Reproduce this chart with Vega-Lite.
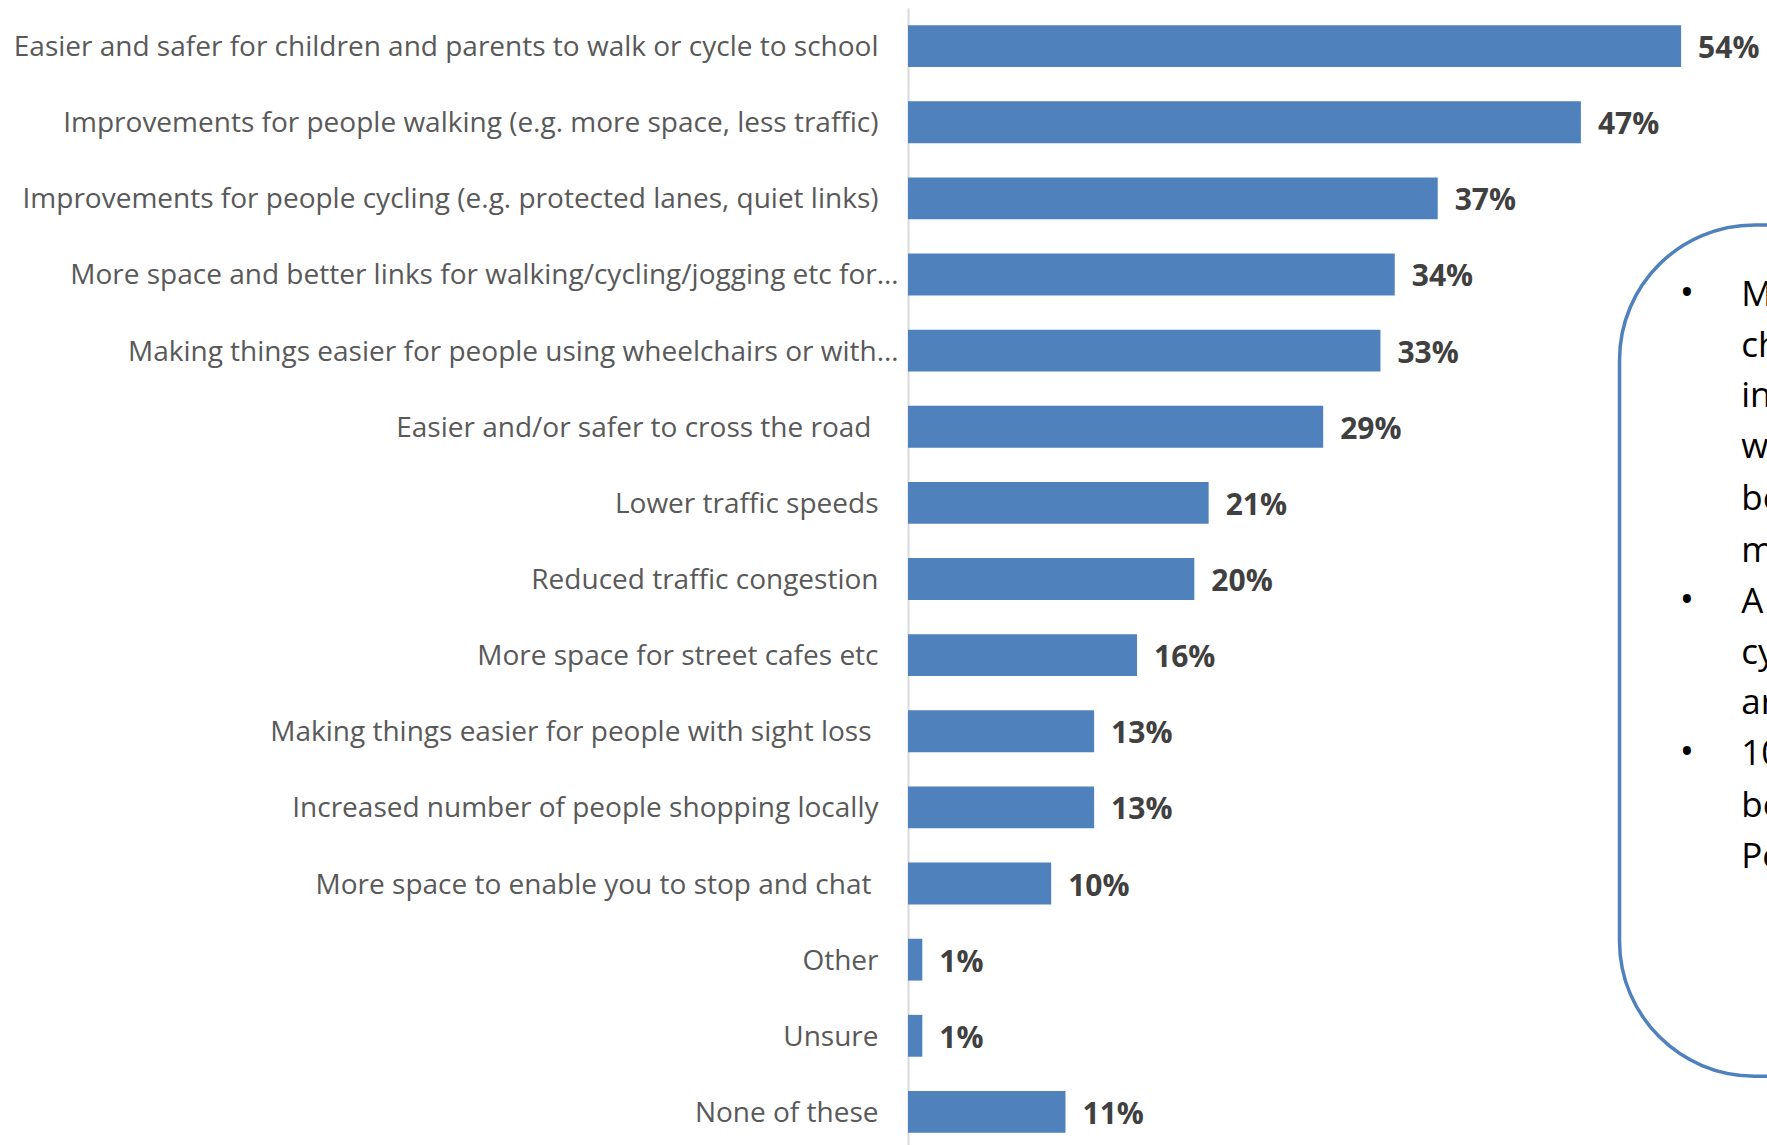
{
  "$schema": "https://vega.github.io/schema/vega-lite/v6.json",
  "autosize": {"type": "none"},
  "width": 859,
  "height": 1142,
  "padding": {"left": 908, "top": 8, "right": 0, "bottom": 0},
  "background": "white",
  "config": {"view": {"stroke": null}},
  "datasets": {
    "bars": [
      {"item": "Easier and safer for children and parents to walk or cycle to school", "share": 0.54},
      {"item": "Improvements for people walking (e.g. more space, less traffic)", "share": 0.47},
      {"item": "Improvements for people cycling (e.g. protected lanes, quiet links)", "share": 0.37},
      {"item": "More space and better links for walking/cycling/jogging etc for…", "share": 0.34},
      {"item": "Making things easier for people using wheelchairs or with…", "share": 0.33},
      {"item": "Easier and/or safer to cross the road", "share": 0.29},
      {"item": "Lower traffic speeds", "share": 0.21},
      {"item": "Reduced traffic congestion", "share": 0.20},
      {"item": "More space for street cafes etc", "share": 0.16},
      {"item": "Making things easier for people with sight loss", "share": 0.13},
      {"item": "Increased number of people shopping locally", "share": 0.13},
      {"item": "More space to enable you to stop and chat", "share": 0.10},
      {"item": "Other", "share": 0.01},
      {"item": "Unsure", "share": 0.01},
      {"item": "None of these", "share": 0.11}
    ],
    "box": [
      {"x": 0.497, "x2": 0.85, "y": 2.85, "y2": 14.03}
    ],
    "notes": [
      {"x": 0.582, "row": 3.77, "txt": "M"},
      {"x": 0.582, "row": 4.44, "txt": "ch"},
      {"x": 0.582, "row": 5.10, "txt": "in"},
      {"x": 0.582, "row": 5.77, "txt": "w"},
      {"x": 0.582, "row": 6.45, "txt": "be"},
      {"x": 0.582, "row": 7.13, "txt": "m"},
      {"x": 0.582, "row": 7.80, "txt": "A"},
      {"x": 0.582, "row": 8.47, "txt": "cy"},
      {"x": 0.582, "row": 9.13, "txt": "ar"},
      {"x": 0.582, "row": 9.80, "txt": "10"},
      {"x": 0.582, "row": 10.48, "txt": "be"},
      {"x": 0.582, "row": 11.15, "txt": "Pe"}
    ],
    "bullets": [
      {"x": 0.544, "row": 3.77, "txt": "•"},
      {"x": 0.544, "row": 7.80, "txt": "•"},
      {"x": 0.544, "row": 9.80, "txt": "•"}
    ]
  },
  "layer": [
    {
      "data": {"name": "bars"},
      "layer": [
        {
          "mark": {"type": "bar", "color": "#4F81BD"},
          "encoding": {
            "y": {
              "field": "item", "type": "nominal", "sort": null, "title": null,
              "scale": {"paddingInner": 0.45, "paddingOuter": 0.225},
              "axis": {
                "domainColor": "#D9D9D9", "domainWidth": 2, "ticks": false,
                "labelPadding": {
                  "condition": [
                    {"test": "indexof(datum.value, '…') >= 0", "value": 10},
                    {"test": "indexof(['Easier and/or safer to cross the road', 'Making things easier for people with sight loss', 'More space to enable you to stop and chat'], datum.value) >= 0", "value": 37}
                  ],
                  "value": 30
                },
                "labelLimit": 1000, "labelFont": "Open Sans",
                "labelFontSize": 28, "labelColor": "#595959", "grid": false,
                "labelOffset": 2
              }
            },
            "x": {"field": "share", "type": "quantitative", "axis": null, "scale": {"domain": [0, 0.6]}}
          }
        },
        {
          "mark": {"type": "text", "align": "left", "dx": 17, "dy": 3, "font": "Open Sans", "fontWeight": "bold", "fontSize": 30, "color": "#404040"},
          "encoding": {
            "y": {"field": "item", "type": "nominal", "sort": null},
            "x": {"field": "share", "type": "quantitative", "scale": {"domain": [0, 0.6]}},
            "text": {"field": "share", "type": "quantitative", "format": ".0%"}
          }
        }
      ]
    },
    {
      "data": {"name": "box"},
      "mark": {"type": "rect", "fill": "white", "stroke": "#4F81BD", "strokeWidth": 3.5, "cornerRadius": 135, "clip": false},
      "encoding": {
        "x": {"field": "x", "type": "quantitative", "scale": {"domain": [0, 0.6]}},
        "x2": {"field": "x2"},
        "y": {"field": "y", "type": "quantitative", "axis": null, "scale": {"domain": [0, 15], "reverse": true}},
        "y2": {"field": "y2"}
      }
    },
    {
      "data": {"name": "notes"},
      "mark": {"type": "text", "align": "left", "baseline": "middle", "font": "Open Sans", "fontSize": 35, "color": "#000000"},
      "encoding": {
        "x": {"field": "x", "type": "quantitative", "scale": {"domain": [0, 0.6]}},
        "y": {"field": "row", "type": "quantitative", "axis": null, "scale": {"domain": [0, 15], "reverse": true}},
        "text": {"field": "txt"}
      }
    },
    {
      "data": {"name": "bullets"},
      "mark": {"type": "text", "align": "center", "baseline": "middle", "font": "Open Sans", "fontSize": 38, "color": "#000000"},
      "encoding": {
        "x": {"field": "x", "type": "quantitative", "scale": {"domain": [0, 0.6]}},
        "y": {"field": "row", "type": "quantitative", "axis": null, "scale": {"domain": [0, 15], "reverse": true}},
        "text": {"field": "txt"}
      }
    }
  ],
  "resolve": {"scale": {"y": "independent"}, "axis": {"y": "independent"}}
}
